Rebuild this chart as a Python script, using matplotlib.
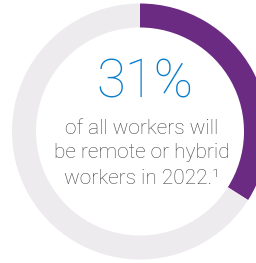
import matplotlib
matplotlib.use("Agg")
import matplotlib.pyplot as plt

# data
ring_values = [34, 66]          # purple arc share vs. remainder, as drawn
ring_colors = ["#6c2b83", "#edebee"]
headline = "31%"
body_lines = ["of all workers will", "be remote or hybrid", "workers in 2022.\u00b9"]

W, H = 256, 263
fig = plt.figure(figsize=(W / 100, H / 100), dpi=100)
ax = fig.add_axes([0, 0, 1, 1])
cx, cy = 140, H - 131.5
ax.pie(ring_values, colors=ring_colors, radius=128, center=(cx, cy),
       startangle=90, counterclock=False,
       wedgeprops=dict(width=24, linewidth=0))
ax.set_xlim(0, W)
ax.set_ylim(0, H)
ax.set_aspect("auto")
ax.axis("off")

ax.text(145, H - 82.5, headline, ha="center", va="center", color="#0a7dcb",
        fontsize=38, family="Roboto", fontweight="light")
ys = [128, 153, 178]
for y, line in zip(ys, body_lines):
    ax.text(141.5, H - y, line, ha="center", va="center", color="#444446",
            fontsize=15, family="Roboto", fontweight="light")

fig.savefig("out.png", dpi=100)
